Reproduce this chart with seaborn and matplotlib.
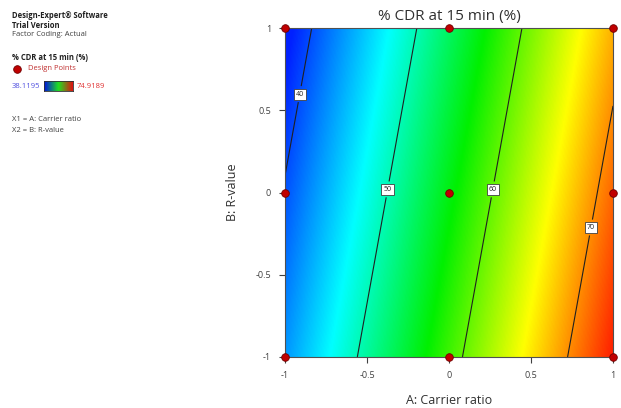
import numpy as np
import pandas as pd
import matplotlib
matplotlib.use("Agg")
import matplotlib.pyplot as plt
from matplotlib.colors import LinearSegmentedColormap
from matplotlib.lines import Line2D
import seaborn as sns

# ---- data ----
title = "% CDR at 15 min (%)"
x_label = "A: Carrier ratio"
y_label = "B: R-value"
# fitted linear model: CDR = b0 + bA*A + bB*B  (coded factors)
coef_names = ["Intercept", "A", "B"]
coef_values = [55.89, 15.6, -2.83]
z_min, z_max = 38.1195, 74.9189
contour_levels = [40, 50, 60, 70]
design_A = [-1, 0, 1, -1, 0, 1, -1, 0, 1]
design_B = [1, 1, 1, 0, 0, 0, -1, -1, -1]
ticks = [-1, -0.5, 0, 0.5, 1]
tick_labels = ["-1", "-0.5", "0", "0.5", "1"]

sns.set_theme(style="white")
plt.rcParams['font.family'] = ['Open Sans', 'DejaVu Sans']

cmap = LinearSegmentedColormap.from_list(
    "de", [(0.0, "#0020ff"), (0.25, "#00ffff"), (0.5, "#00f000"),
           (0.75, "#ffff00"), (1.0, "#ff1000")])
legend_cmap = LinearSegmentedColormap.from_list(
    "leg", [(0.0, "#0010e0"), (0.5, "#20e020"), (1.0, "#e01010")])

fig = plt.figure(figsize=(6.21, 4.08), dpi=100)
W, H = 621, 408
ax = fig.add_axes([285 / W, 1 - 357 / H, (613 - 285) / W, (357 - 28) / H])

g = np.linspace(-1, 1, 301)
AA, BB = np.meshgrid(g, g)
ZZ = coef_values[0] + coef_values[1] * AA + coef_values[2] * BB

ax.imshow(ZZ, extent=[-1, 1, -1, 1], origin="lower", cmap=cmap,
          vmin=z_min, vmax=z_max, aspect="auto", interpolation="bilinear")
cs = ax.contour(AA, BB, ZZ, levels=contour_levels, colors="#202020", linewidths=0.8)
labels = ax.clabel(cs, fmt="%d", fontsize=5, inline=True, inline_spacing=4,
                   manual=[(-0.92, 0.6), (-0.38, 0.02), (0.26, 0.02), (0.85, -0.21)])
for t in labels:
    t.set_rotation(0)
    t.set_bbox(dict(boxstyle="square,pad=0.3", fc="white", ec="#404040", lw=0.6))

df = pd.DataFrame({"A": design_A, "B": design_B})
sns.scatterplot(data=df, x="A", y="B", ax=ax, color="#c00000", edgecolor="#700000",
                s=30, linewidth=0.6, zorder=5, clip_on=False, legend=False)

ax.set_xlim(-1, 1)
ax.set_ylim(-1, 1)
ax.set_xticks(ticks)
ax.set_xticklabels(tick_labels)
ax.set_yticks(ticks)
ax.set_yticklabels(tick_labels)
ax.tick_params(axis="both", direction="out", length=4, width=0.8, color="#404040",
               labelsize=6.5, labelcolor="#404040", pad=6, bottom=True, left=True)
for s in ax.spines.values():
    s.set_color("#505050")
    s.set_linewidth(0.8)
ax.set_xlabel(x_label, fontsize=9, color="#303030", labelpad=10)
ax.set_ylabel(y_label, fontsize=9, color="#303030", labelpad=12)
ax.set_title(title, fontsize=11, color="#303030", pad=6)

# left info panel
def ftxt(x, y, s, **kw):
    fig.text(x / W, 1 - y / H, s, va="center", ha="left", **kw)

ftxt(12, 15, "Design-Expert® Software", fontsize=5.5, fontweight="bold", color="#202020")
ftxt(12, 25, "Trial Version", fontsize=5.5, fontweight="bold", color="#202020")
ftxt(12, 35, "Factor Coding: Actual", fontsize=5.5, color="#404040")
ftxt(12, 57, "% CDR at 15 min (%)", fontsize=5.5, fontweight="bold", color="#202020")
fig.add_artist(Line2D([17 / W], [1 - 69 / H], marker="o", markersize=5.5,
                      color="#c00000", markeredgecolor="#700000", markeredgewidth=0.6,
                      linestyle="none", transform=fig.transFigure))
ftxt(28, 69, "Design Points", fontsize=5.5, color="#c03030")
ftxt(12, 86, f"{z_min:.4f}", fontsize=5.5, color="#5050e0")
ftxt(77, 86, f"{z_max:.4f}", fontsize=5.5, color="#e03030")
cax = fig.add_axes([44 / W, 1 - 91 / H, 29 / W, 10 / H])
cax.imshow(np.linspace(0, 1, 100)[None, :], cmap=legend_cmap, aspect="auto")
cax.set_xticks([]); cax.set_yticks([])
for s in cax.spines.values():
    s.set_color("#303030"); s.set_linewidth(0.6)
ftxt(12, 119, "X1 = A: Carrier ratio", fontsize=5.5, color="#404040")
ftxt(12, 130, "X2 = B: R-value", fontsize=5.5, color="#404040")

fig.savefig("out.png", dpi=100)
